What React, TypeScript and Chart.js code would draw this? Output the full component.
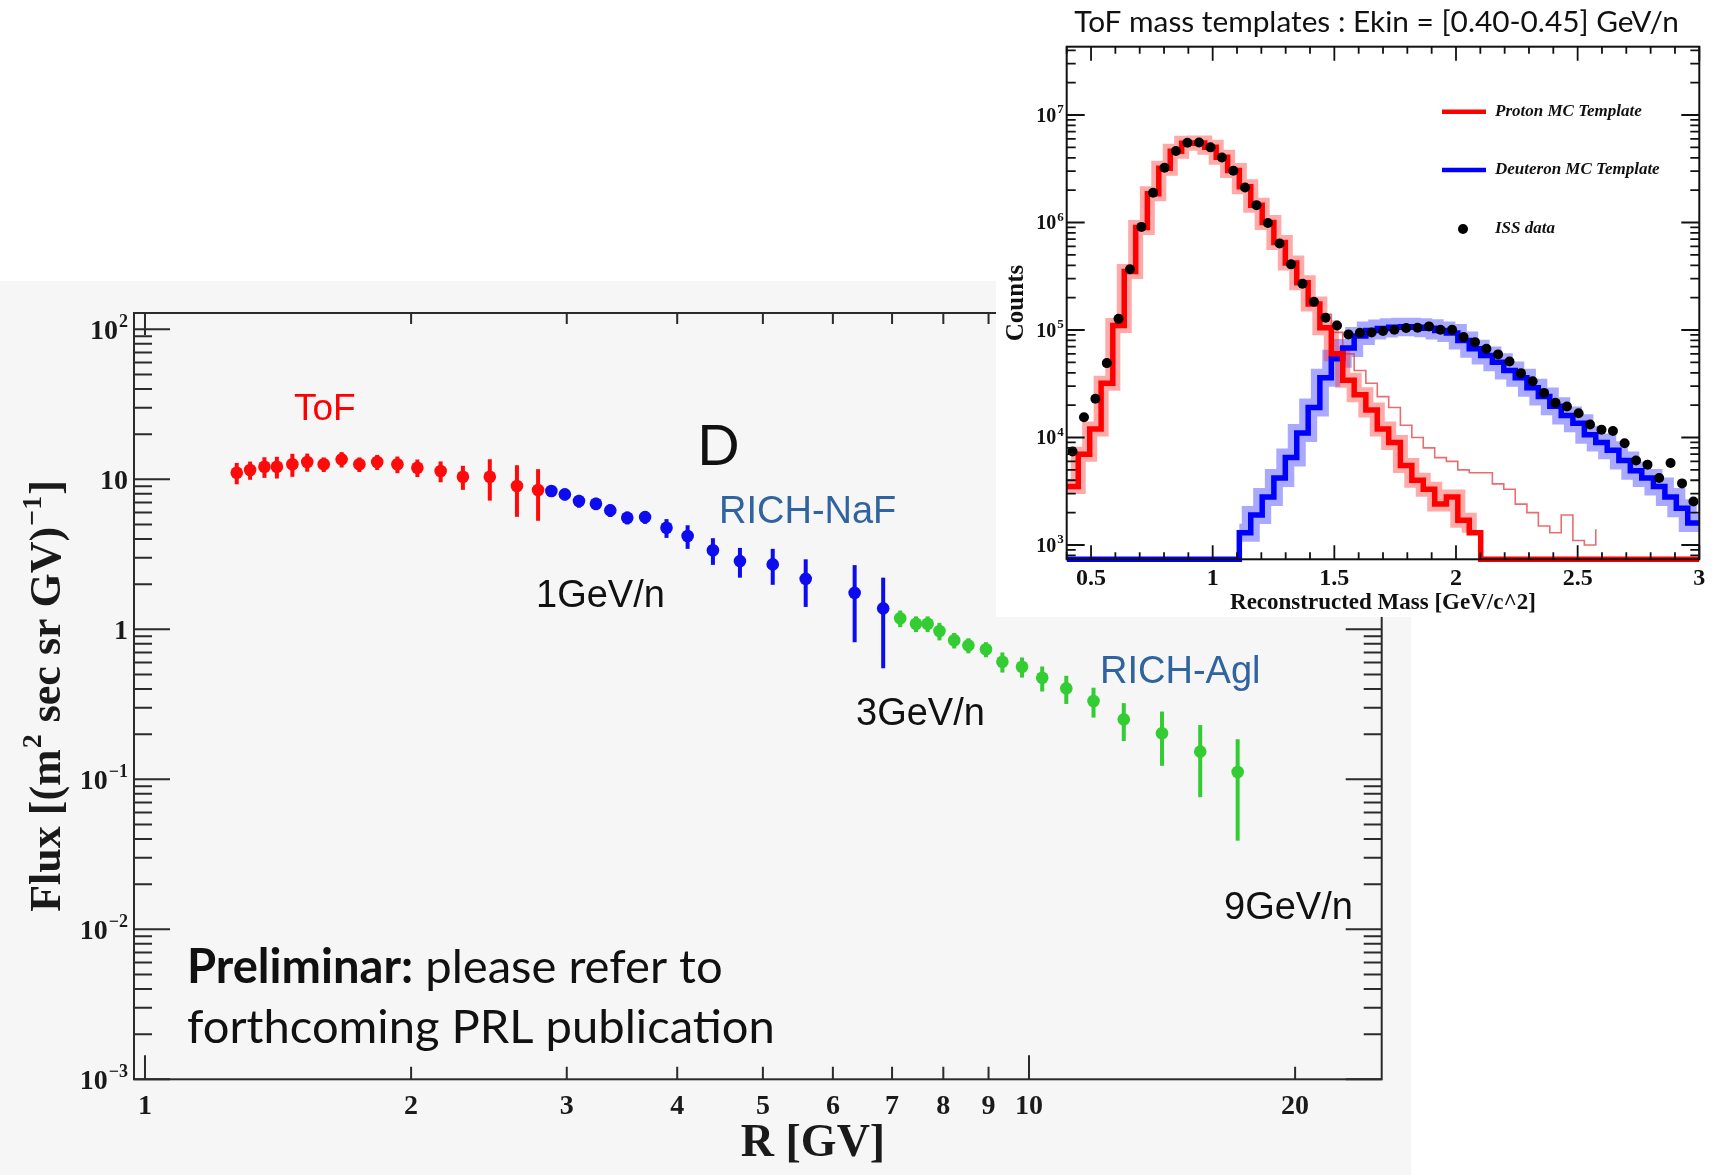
import React, { useEffect, useRef } from "react";
import { Chart, registerables } from "chart.js";

Chart.register(...registerables);

const SERIF = '"Liberation Serif", "Times New Roman", serif';
const SANS = '"Liberation Sans", Arial, sans-serif';
const HUMANIST = 'Lato, "Open Sans", sans-serif';

// ---------------- Main chart: deuteron flux vs rigidity ----------------
const tofRigidity = [1.27, 1.315, 1.365, 1.41, 1.468, 1.526, 1.593, 1.669, 1.748, 1.831, 1.93, 2.033, 2.16, 2.289, 2.455, 2.635, 2.784];
const tofFlux = [11.07, 11.53, 12.13, 12.13, 12.59, 13.04, 12.59, 13.59, 12.59, 13.04, 12.59, 11.95, 11.36, 10.41, 10.41, 9.02, 8.49];
const tofError = [1.8, 1.6, 1.9, 2.0, 2.2, 1.8, 1.4, 1.6, 1.4, 1.5, 1.6, 1.6, 1.8, 1.9, 3.2, 3.4, 3.2];

const nafRigidity = [2.882, 2.985, 3.097, 3.237, 3.36, 3.512, 3.679, 3.89, 4.11, 4.39, 4.71, 5.13, 5.59, 6.35, 6.84];
const nafFlux = [8.36, 7.94, 7.17, 6.88, 6.21, 5.55, 5.6, 4.75, 4.19, 3.37, 2.85, 2.71, 2.17, 1.75, 1.38];
const nafError = [0.5, 0.7, 0.7, 0.65, 0.6, 0.55, 0.55, 0.68, 0.75, 0.68, 0.64, 0.73, 0.76, 0.93, 0.83];

const aglRigidity = [7.15, 7.45, 7.68, 7.92, 8.23, 8.54, 8.94, 9.33, 9.82, 10.35, 11.02, 11.83, 12.8, 14.14, 15.62, 17.22];
const aglFlux = [1.184, 1.09, 1.09, 0.974, 0.845, 0.782, 0.736, 0.608, 0.563, 0.475, 0.404, 0.333, 0.251, 0.203, 0.153, 0.112];
const aglError = [0.15, 0.13, 0.13, 0.13, 0.1, 0.09, 0.085, 0.093, 0.086, 0.09, 0.086, 0.075, 0.071, 0.08, 0.077, 0.073];

const rigidityTicks = [1, 2, 3, 4, 5, 6, 7, 8, 9, 10, 20];
const rigidityTickLabels = ["1", "2", "3", "4", "5", "6", "7", "8", "9", "10", "20"];
const fluxTicks = [0.001, 0.01, 0.1, 1, 10, 100];
const fluxTickBase = ["10", "10", "10", "1", "10", "10"];
const fluxTickExp = ["\u22123", "\u22122", "\u22121", "", "", "2"];

// ---------------- Inset: ToF mass templates ----------------
const massBinCenters = [
  0.424, 0.471, 0.518, 0.565, 0.613, 0.660, 0.707, 0.755, 0.802, 0.849,
  0.896, 0.944, 0.991, 1.038, 1.085, 1.133, 1.180, 1.227, 1.275, 1.322,
  1.369, 1.416, 1.464, 1.511, 1.558, 1.605, 1.653, 1.700, 1.747, 1.795,
  1.842, 1.889, 1.936, 1.984, 2.031, 2.078, 2.125, 2.173, 2.220, 2.267,
  2.315, 2.362, 2.409, 2.456, 2.504, 2.551, 2.598, 2.645, 2.693, 2.740,
  2.787, 2.835, 2.882, 2.929, 2.976,
];
const issCounts = [
  7400, 15400, 22900, 49200, 127000, 367000, 910000, 1890000, 3230000, 4620000,
  5520000, 5550000, 5000000, 4030000, 3030000, 2120000, 1450000, 991000, 637000, 408000,
  270000, 183000, 130000, 110000, 91000, 94400, 95000, 97700, 100700, 104200,
  105000, 108000, 100700, 100700, 85900, 77100, 66800, 59300, 50900, 39700,
  33400, 26000, 21000, 19400, 16800, 13200, 11800, 11500, 8830, 6100,
  5590, 4200, 5800, 3740, 2540,
];
const protonTemplate = [
  3500, 7000, 12000, 32000, 110000, 350000, 900000, 1850000, 3200000, 4600000,
  5450000, 5500000, 5000000, 4050000, 3050000, 2150000, 1450000, 1000000, 650000, 420000,
  275000, 175000, 105000, 60000, 34000, 25000, 18000, 12000, 9000, 5500,
  4000, 3300, 2400, 2800, 1700, 1300, 0, 0, 0, 0,
  0, 0, 0, 0, 0, 0, 0, 0, 0, 0,
  0, 0, 0, 0, 0,
];
const deuteronTemplate = [
  0, 0, 0, 0, 0, 0, 0, 0, 0, 0,
  0, 0, 0, 0, 0, 1300, 1900, 2800, 4200, 6500,
  11000, 19000, 36000, 54000, 68000, 88000, 99000, 103000, 106000, 107000,
  106000, 104000, 99000, 94000, 80000, 67000, 58000, 50000, 42000, 36000,
  29000, 24000, 19500, 16000, 13600, 10600, 9000, 7600, 6100, 4900,
  4200, 3500, 2800, 2200, 1600,
];
const protonTailSpread = [
  null, null, null, null, null, null, null, null, null, null,
  null, null, null, null, null, null, null, null, null, null,
  null, null, 140000, 95000, 60000, 42000, 32000, 24000, 19000, 13000,
  10000, 8000, 6500, 6000, 5000, 4700, 4700, 3700, 3300, 2400,
  2000, 1500, 1300, 1900, 1100, 1000, 1400, null, null, null,
  null, null, null, null, null,
];
const massTicks = [0.5, 1, 1.5, 2, 2.5, 3];
const massTickLabels = ["0.5", "1", "1.5", "2", "2.5", "3"];
const countTicks = [1e3, 1e4, 1e5, 1e6, 1e7];
const countTickBase = ["10", "10", "10", "10", "10"];
const countTickExp = ["3", "4", "5", "6", "7"];

// draw "base^exp" right-aligned, digits centred on y
function drawPowerLabel(ctx: any, base: string, exp: string, right: number, y: number, size: number, expSize: number, color: string) {
  ctx.save();
  ctx.fillStyle = color;
  ctx.textBaseline = "alphabetic";
  ctx.textAlign = "left";
  const bf = `bold ${size}px ${SERIF}`;
  const ef = `bold ${expSize}px ${SERIF}`;
  ctx.font = bf;
  const bw = ctx.measureText(base).width;
  ctx.font = ef;
  const ew = exp ? ctx.measureText(exp).width + 1 : 0;
  const x0 = right - bw - ew;
  const baseLine = y + size * 0.33;
  ctx.font = bf;
  ctx.fillText(base, x0, baseLine);
  if (exp) {
    ctx.font = ef;
    ctx.fillText(exp, x0 + bw + 1, baseLine - size * 0.42);
  }
  ctx.restore();
}

// ---------------- Main chart plugins ----------------
const mainBgPlugin = {
  id: "mainBg",
  beforeDraw(chart: any) {
    const { ctx, width, height } = chart;
    ctx.save();
    ctx.fillStyle = "#f6f6f6";
    ctx.fillRect(0, 0, width, height);
    ctx.restore();
  },
};

const errorBarPlugin = {
  id: "errorBars",
  beforeDatasetsDraw(chart: any) {
    const { ctx } = chart;
    const ys = chart.scales.y;
    ctx.save();
    chart.data.datasets.forEach((ds: any, i: number) => {
      const meta = chart.getDatasetMeta(i);
      ctx.strokeStyle = ds.borderColor;
      ctx.lineWidth = 4;
      ctx.lineCap = "butt";
      ds.data.forEach((p: any, j: number) => {
        const el = meta.data[j];
        if (!el) return;
        const y1 = ys.getPixelForValue(p.y + p.err);
        const y2 = ys.getPixelForValue(Math.max(p.y - p.err, 1e-6));
        ctx.beginPath();
        ctx.moveTo(el.x, y1);
        ctx.lineTo(el.x, y2);
        ctx.stroke();
      });
    });
    ctx.restore();
  },
};

const mainFramePlugin = {
  id: "mainFrame",
  afterDatasetsDraw(chart: any) {
    const { ctx, chartArea: a } = chart;
    const xs = chart.scales.x;
    const ys = chart.scales.y;
    ctx.save();
    ctx.strokeStyle = "#2b2b2b";
    ctx.lineWidth = 2;
    ctx.strokeRect(a.left, a.top, a.right - a.left, a.bottom - a.top);
    ctx.beginPath();
    for (const v of rigidityTicks) {
      const px = xs.getPixelForValue(v);
      const lg = Math.log10(v);
      const major = Math.abs(lg - Math.round(lg)) < 1e-9;
      const lb = major ? 24 : 12.5;
      const lt = major ? 22 : 11;
      ctx.moveTo(px, a.bottom);
      ctx.lineTo(px, a.bottom - lb);
      ctx.moveTo(px, a.top);
      ctx.lineTo(px, a.top + lt);
    }
    for (let d = -3; d <= 2; d++) {
      for (let m = 1; m <= 9; m++) {
        const v = m * Math.pow(10, d);
        if (v > ys.max) break;
        const py = ys.getPixelForValue(v);
        const len = m === 1 ? 36 : 18;
        ctx.moveTo(a.left, py);
        ctx.lineTo(a.left + len, py);
        ctx.moveTo(a.right, py);
        ctx.lineTo(a.right - len, py);
      }
    }
    ctx.stroke();
    ctx.restore();
    // y tick labels (powers of ten)
    fluxTicks.forEach((v, i) => {
      drawPowerLabel(ctx, fluxTickBase[i], fluxTickExp[i], a.left - 6, ys.getPixelForValue(v), 28, 18, "#1a1a1a");
    });
  },
};

const mainTextPlugin = {
  id: "mainText",
  afterDraw(chart: any) {
    const ctx = chart.ctx;
    ctx.save();
    ctx.textBaseline = "alphabetic";
    const put = (t: string, x: number, y: number, font: string, color: string, align: CanvasTextAlign = "left") => {
      ctx.font = font;
      ctx.fillStyle = color;
      ctx.textAlign = align;
      ctx.fillText(t, x, y);
    };
    const OY = 281;
    put("ToF", 294, 420 - OY, `37px ${SANS}`, "#ff0000");
    put("D", 697, 465 - OY, `56px ${HUMANIST}`, "#111111");
    put("RICH-NaF", 719, 523 - OY, `38px ${SANS}`, "#2f64a0");
    put("1GeV/n", 536, 607 - OY, `38px ${SANS}`, "#111111");
    put("3GeV/n", 856, 725 - OY, `38px ${SANS}`, "#111111");
    put("RICH-Agl", 1100, 683 - OY, `38px ${SANS}`, "#2f64a0");
    put("9GeV/n", 1224, 919 - OY, `38px ${SANS}`, "#111111");

    // Preliminary note
    ctx.font = `46px ${HUMANIST}`;
    const w2 = ctx.measureText("forthcoming PRL publication").width;
    const fs = (46 * 588) / w2;
    ctx.font = `bold ${fs}px ${HUMANIST}`;
    const bw = ctx.measureText("Preliminar:").width;
    put("Preliminar:", 187, 983 - OY, `bold ${fs}px ${HUMANIST}`, "#111111");
    put(" please refer to", 187 + bw, 983 - OY, `${fs}px ${HUMANIST}`, "#111111");
    put("forthcoming PRL publication", 187, 1043 - OY, `${fs}px ${HUMANIST}`, "#111111");

    // x axis title
    ctx.textBaseline = "middle";
    put("R [GV]", 813, 1144 - OY, `bold 46px ${SERIF}`, "#1a1a1a", "center");

    // y axis title with superscripts, rotated
    const parts: [string, boolean][] = [
      ["Flux [(m", false],
      ["2", true],
      [" sec sr GV)", false],
      ["\u22121", true],
      ["]", false],
    ];
    const big = `bold 44px ${SERIF}`;
    const small = `bold 28px ${SERIF}`;
    let total = 0;
    const widths = parts.map(([t, sup]) => {
      ctx.font = sup ? small : big;
      const w = ctx.measureText(t).width + (sup ? 2 : 0);
      total += w;
      return w;
    });
    ctx.translate(45, 696 - OY);
    ctx.rotate(-Math.PI / 2);
    ctx.textBaseline = "alphabetic";
    ctx.textAlign = "left";
    ctx.fillStyle = "#1a1a1a";
    let cx = -total / 2;
    parts.forEach(([t, sup], i) => {
      ctx.font = sup ? small : big;
      ctx.fillText(t, cx + (sup ? 1 : 0), sup ? 15 - 19 : 15);
      cx += widths[i];
    });
    ctx.restore();
  },
};

function MainChart() {
  const ref = useRef<HTMLCanvasElement>(null);
  useEffect(() => {
    const canvas = ref.current!;
    const pts = (xs: number[], ys: number[], es: number[]) => xs.map((x, i) => ({ x, y: ys[i], err: es[i] }));
    const mkSet = (label: string, data: any[], color: string) => ({
      label,
      data,
      backgroundColor: color,
      borderColor: color,
      pointRadius: 6.3,
      pointBorderWidth: 0,
      pointHoverRadius: 6.3,
    });
    const chart = new Chart(canvas, {
      type: "scatter",
      data: {
        datasets: [
          mkSet("ToF", pts(tofRigidity, tofFlux, tofError), "#ff0a0a"),
          mkSet("RICH-NaF", pts(nafRigidity, nafFlux, nafError), "#0c0cee"),
          mkSet("RICH-Agl", pts(aglRigidity, aglFlux, aglError), "#33cc33"),
        ],
      },
      options: {
        animation: false,
        responsive: false,
        devicePixelRatio: 1,
        events: [],
        layout: { padding: { top: 32, right: 29.3, left: 0, bottom: 0 } },
        plugins: { legend: { display: false }, tooltip: { enabled: false }, title: { display: false } },
        scales: {
          x: {
            type: "logarithmic",
            position: "bottom",
            min: 0.9718,
            max: 25.06,
            grid: { display: false, drawTicks: false },
            border: { display: false },
            afterBuildTicks: (s: any) => {
              s.ticks = rigidityTicks.map((v) => ({ value: v }));
            },
            afterFit: (s: any) => {
              s.height = 95.7;
            },
            ticks: {
              autoSkip: false,
              maxRotation: 0,
              minRotation: 0,
              padding: 10.5,
              color: "#1a1a1a",
              font: { family: SERIF, weight: "bold", size: 28 },
              callback: (v: any) => {
                const i = rigidityTicks.indexOf(Number(v));
                return i >= 0 ? rigidityTickLabels[i] : "";
              },
            },
          },
          y: {
            type: "logarithmic",
            position: "left",
            min: 0.001,
            max: 128.5,
            grid: { display: false, drawTicks: false },
            border: { display: false },
            afterBuildTicks: (s: any) => {
              s.ticks = fluxTicks.map((v) => ({ value: v }));
            },
            afterFit: (s: any) => {
              s.width = 134;
            },
            ticks: { display: false },
            title: { display: false },
          },
        },
      } as any,
      plugins: [mainBgPlugin, errorBarPlugin, mainFramePlugin, mainTextPlugin],
    });
    return () => chart.destroy();
  }, []);
  return (
    <canvas
      ref={ref}
      width={1411}
      height={894}
      style={{ position: "absolute", left: 0, top: 281, width: 1411, height: 894, display: "block" }}
    />
  );
}

// ---------------- Inset plugins ----------------
const insetBgPlugin = {
  id: "insetBg",
  beforeDraw(chart: any) {
    const { ctx, width, height } = chart;
    ctx.save();
    ctx.fillStyle = "#ffffff";
    ctx.fillRect(0, 0, width, height);
    ctx.restore();
  },
};

const insetFramePlugin = {
  id: "insetFrame",
  afterDatasetsDraw(chart: any) {
    const { ctx, chartArea: a } = chart;
    const xs = chart.scales.x;
    const ys = chart.scales.y;
    ctx.save();
    ctx.strokeStyle = "#111111";
    ctx.lineWidth = 2;
    ctx.strokeRect(a.left, a.top, a.right - a.left, a.bottom - a.top);
    ctx.lineWidth = 1.8;
    ctx.beginPath();
    for (let i = 4; i <= 30; i++) {
      const v = i / 10;
      const px = xs.getPixelForValue(v);
      const len = i % 5 === 0 ? 14 : 7;
      ctx.moveTo(px, a.bottom);
      ctx.lineTo(px, a.bottom - len);
      ctx.moveTo(px, a.top);
      ctx.lineTo(px, a.top + len);
    }
    for (let d = 2; d <= 7; d++) {
      for (let m = 1; m <= 9; m++) {
        const v = m * Math.pow(10, d);
        if (v < ys.min || v > ys.max) continue;
        const py = ys.getPixelForValue(v);
        const len = m === 1 ? 18 : 9;
        ctx.moveTo(a.left, py);
        ctx.lineTo(a.left + len, py);
        ctx.moveTo(a.right, py);
        ctx.lineTo(a.right - len, py);
      }
    }
    ctx.stroke();
    ctx.restore();
    countTicks.forEach((v, i) => {
      drawPowerLabel(ctx, countTickBase[i], countTickExp[i], a.left - 3, ys.getPixelForValue(v), 20, 13, "#111111");
    });
  },
};

const insetTextPlugin = {
  id: "insetText",
  afterDraw(chart: any) {
    const ctx = chart.ctx;
    ctx.save();
    // title
    const title = "ToF mass templates : Ekin = [0.40-0.45] GeV/n";
    ctx.font = `30px ${HUMANIST}`;
    const tw = ctx.measureText(title).width;
    const tfs = (30 * 605) / tw;
    ctx.font = `${tfs}px ${HUMANIST}`;
    ctx.fillStyle = "#111111";
    ctx.textAlign = "center";
    ctx.textBaseline = "alphabetic";
    ctx.fillText(title, 380.5, 32);

    // legend
    const lf = `italic bold 17px ${SERIF}`;
    ctx.lineWidth = 4.5;
    ctx.strokeStyle = "#ff0000";
    ctx.beginPath();
    ctx.moveTo(446, 111.7);
    ctx.lineTo(490, 111.7);
    ctx.stroke();
    ctx.strokeStyle = "#0000ff";
    ctx.beginPath();
    ctx.moveTo(446, 170);
    ctx.lineTo(490, 170);
    ctx.stroke();
    ctx.fillStyle = "#000000";
    ctx.beginPath();
    ctx.arc(467, 229, 5, 0, Math.PI * 2);
    ctx.fill();
    ctx.font = lf;
    ctx.textAlign = "left";
    ctx.textBaseline = "middle";
    ctx.fillStyle = "#111111";
    ctx.fillText("Proton MC Template", 499, 112);
    ctx.fillText("Deuteron MC Template", 499, 170);
    ctx.fillText("ISS data", 499, 229);
    ctx.restore();
  },
};

function InsetChart() {
  const ref = useRef<HTMLCanvasElement>(null);
  useEffect(() => {
    const canvas = ref.current!;
    const yMin = 736;
    const half = (massBinCenters[1] - massBinCenters[0]) / 2;
    // histogram outline: each value spans its own bin [centre - half, centre + half]
    const steps = (values: (number | null)[], zeroAs: number | null) => {
      const mapV = (v: number | null) => (v === null ? null : v > 0 ? v : zeroAs);
      const out: any[] = values.map((v, k) => ({ x: massBinCenters[k] - half, y: mapV(v) }));
      const last = values.length - 1;
      out.push({ x: massBinCenters[last] + half, y: mapV(values[last]) });
      return out;
    };
    const stepStyle = (color: string, width: number, clip: any) => ({
      borderColor: color,
      backgroundColor: color,
      borderWidth: width,
      pointRadius: 0,
      stepped: "before",
      fill: false,
      spanGaps: false,
      clip,
    });
    const chart = new Chart(canvas, {
      type: "line",
      data: {
        datasets: [
          {
            label: "ISS data",
            data: massBinCenters.map((x, k) => ({ x, y: issCounts[k] })),
            showLine: false,
            pointRadius: 5,
            pointBackgroundColor: "#000000",
            pointBorderWidth: 0,
            borderColor: "#000000",
          },
          { label: "Proton MC Template", data: steps(protonTemplate, yMin), ...stepStyle("#ff0000", 5.5, 3) },
          { label: "Deuteron MC Template", data: steps(deuteronTemplate, yMin), ...stepStyle("#0000ff", 5.5, 3) },
          { label: "proton spread", data: steps(protonTailSpread, null), ...stepStyle("rgba(225,60,60,0.75)", 1.6, 0) },
          { label: "proton halo", data: steps(protonTemplate, null), ...stepStyle("rgba(255,40,40,0.4)", 15, 0) },
          { label: "deuteron halo", data: steps(deuteronTemplate, null), ...stepStyle("rgba(40,40,255,0.4)", 18, 0) },
        ] as any,
      },
      options: {
        animation: false,
        responsive: false,
        devicePixelRatio: 1,
        events: [],
        layout: { padding: { top: 46.7, right: 29.7, left: 0, bottom: 0 } },
        plugins: { legend: { display: false }, tooltip: { enabled: false }, title: { display: false } },
        scales: {
          x: {
            type: "linear",
            min: 0.4,
            max: 3.0,
            grid: { display: false, drawTicks: false },
            border: { display: false },
            afterBuildTicks: (s: any) => {
              s.ticks = massTicks.map((v) => ({ value: v }));
            },
            afterFit: (s: any) => {
              s.height = 57.7;
            },
            ticks: {
              autoSkip: false,
              maxRotation: 0,
              minRotation: 0,
              padding: 5,
              color: "#111111",
              font: { family: SERIF, weight: "bold", size: 24 },
              callback: (v: any) => {
                const i = massTicks.indexOf(Number(v));
                return i >= 0 ? massTickLabels[i] : "";
              },
            },
            title: {
              display: true,
              text: "Reconstructed Mass [GeV/c^2]",
              color: "#111111",
              font: { family: SERIF, weight: "bold", size: 23 },
              padding: { top: 0, bottom: 0 },
            },
          },
          y: {
            type: "logarithmic",
            min: yMin,
            max: 4.32e7,
            grid: { display: false, drawTicks: false },
            border: { display: false },
            afterBuildTicks: (s: any) => {
              s.ticks = countTicks.map((v) => ({ value: v }));
            },
            afterFit: (s: any) => {
              s.width = 70.7;
            },
            ticks: { display: false },
            title: {
              display: true,
              text: "Counts",
              color: "#111111",
              font: { family: SERIF, weight: "bold", size: 25 },
              padding: { top: 6, bottom: 0 },
            },
          },
        },
      } as any,
      plugins: [insetBgPlugin, insetFramePlugin, insetTextPlugin],
    });
    return () => chart.destroy();
  }, []);
  return (
    <canvas
      ref={ref}
      width={733}
      height={617}
      style={{ position: "absolute", left: 996, top: 0, width: 733, height: 617, display: "block" }}
    />
  );
}

export default function App() {
  return (
    <div style={{ position: "absolute", left: 0, top: 0, width: 1729, height: 1175, background: "#ffffff", overflow: "hidden" }}>
      <MainChart />
      <InsetChart />
    </div>
  );
}
